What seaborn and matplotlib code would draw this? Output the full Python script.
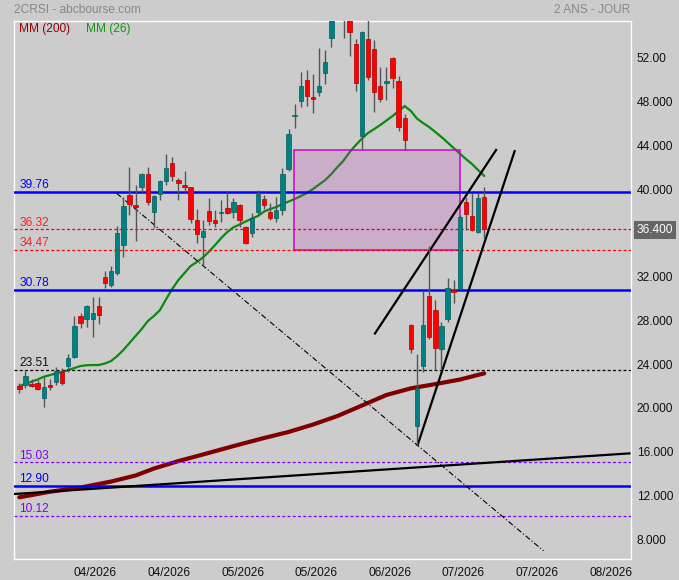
import numpy as np
import pandas as pd
import matplotlib
matplotlib.use("Agg")
import matplotlib.pyplot as plt
import matplotlib.patches as mpatches
import matplotlib.transforms as mtransforms
import seaborn as sns

# ---------------- data ----------------
opens = [22.0, 22.09, 22.18, 22.24, 20.87, 22.06, 22.39, 23.28, 23.83, 24.68,
         28.4, 28.09, 28.09, 29.31, 31.99, 31.23, 32.36, 34.89, 39.46, 38.54,
         40.22, 41.38, 37.93, 39.52, 40.77, 42.35, 40.83, 40.37, 40.16, 37.17,
         35.65, 37.99, 37.17, 37.78, 38.24, 37.93, 38.54, 36.5, 35.95, 37.93,
         39.09, 37.93, 37.38, 38.09, 41.83, 46.68, 48.05, 49.94, 48.41, 48.9,
         50.58, 53.84, 57.0, 57.5, 56.5, 53.23, 44.88, 53.72, 52.8, 49.42,
         49.66, 51.95, 49.88, 46.46, 27.57, 18.37, 23.86, 30.23, 28.94, 25.35,
         28.09, 30.74, 30.86, 38.79, 37.51, 36.11, 39.3]
highs = [22.24, 23.46, 22.61, 22.55, 22.79, 22.61, 23.77, 23.61, 24.92, 28.4,
         28.64, 29.37, 30.16, 30.16, 32.54, 32.97, 36.62, 39.3, 42.05, 40.37,
         41.5, 42.05, 39.46, 40.83, 43.21, 42.96, 40.98, 41.65, 40.22, 38.15,
         37.17, 39.15, 38.09, 39.0, 39.76, 39.15, 38.64, 36.62, 37.78, 39.91,
         39.46, 38.7, 39.3, 41.9, 45.49, 47.74, 50.73, 50.88, 50.49, 52.86,
         52.71, 57.0, 59.0, 58.5, 57.0, 53.72, 54.45, 55.8, 53.62, 51.19,
         51.19, 52.1, 50.33, 46.83, 27.7, 24.89, 30.68, 34.8, 29.86, 27.88,
         31.84, 31.69, 37.63, 39.3, 39.61, 39.61, 40.16]
lows = [21.39, 21.78, 21.88, 21.6, 20.11, 21.63, 22.09, 22.09, 23.31, 24.53,
        27.27, 27.42, 26.51, 27.66, 31.0, 31.08, 32.14, 33.82, 37.63, 35.28,
        39.76, 38.54, 36.41, 39.0, 40.37, 40.77, 39.0, 39.76, 36.87, 35.1,
        33.06, 36.72, 36.56, 37.02, 37.72, 37.33, 36.56, 34.98, 35.65, 37.63,
        38.18, 37.17, 36.96, 37.63, 41.65, 45.61, 47.53, 47.62, 46.98, 48.54,
        49.57, 53.0, 55.8, 53.84, 52.19, 48.96, 43.66, 49.97, 47.01, 47.93,
        48.14, 49.27, 45.31, 43.57, 24.98, 16.6, 23.25, 26.3, 23.46, 23.46,
        27.88, 29.55, 30.77, 36.26, 36.17, 35.95, 35.44]
closes = [21.69, 22.91, 22.03, 21.69, 21.94, 21.88, 23.4, 22.24, 24.53, 27.48,
          27.79, 29.31, 28.7, 28.46, 31.44, 32.54, 35.95, 38.45, 38.63, 38.39,
          41.38, 38.85, 39.37, 40.74, 41.9, 41.23, 40.52, 40.22, 37.23, 35.86,
          36.2, 37.11, 36.93, 37.9, 37.78, 38.82, 37.17, 35.1, 37.32, 39.52,
          38.54, 37.32, 38.09, 41.35, 45.0, 46.74, 49.42, 48.54, 48.2, 49.42,
          51.58, 56.5, 58.0, 56.5, 54.39, 49.66, 54.33, 50.27, 48.9, 48.2,
          49.88, 50.12, 45.7, 44.48, 25.35, 21.78, 27.57, 26.51, 25.44, 27.48,
          30.93, 30.62, 37.45, 37.69, 36.23, 39.15, 36.4]

mm26 = [22.0, 22.2, 22.4, 22.6, 22.85, 23.0, 23.15, 23.3, 23.46, 23.65,
        23.83, 23.9, 23.92, 23.92, 24.06, 24.29, 24.74, 25.29, 25.93, 26.57,
        27.21, 27.94, 28.4, 28.95, 29.95, 30.87, 31.69, 32.33, 32.97, 33.33,
        33.75, 34.29, 34.89, 35.53, 36.08, 36.51, 36.76, 37.04, 37.31, 37.54,
        37.95, 38.18, 38.36, 38.64, 38.86, 39.09, 39.37, 39.64, 40.01, 40.42,
        40.83, 41.38, 42.02, 42.61, 43.39, 44.03, 44.62, 45.13, 45.49, 45.86,
        46.27, 46.68, 47.14, 47.59, 47.14, 46.45, 46.04, 45.67, 45.22, 44.76,
        44.26, 43.75, 43.25, 42.75, 42.29, 41.74, 41.2]

mm200_idx = [0, 5, 10, 15, 19, 22, 26, 30, 35, 40, 44, 48, 52, 56, 60, 64, 68, 72, 76]
mm200_val = [11.83, 12.34, 12.72, 13.27, 13.82, 14.46, 15.14, 15.74, 16.51, 17.25,
             17.8, 18.48, 19.26, 20.22, 21.18, 21.79, 22.18, 22.59, 23.16]

level_values = [39.76, 36.32, 34.47, 30.78, 23.51, 15.03, 12.90, 10.12]
level_labels = ["39.76", "36.32", "34.47", "30.78", "23.51", "15.03", "12.90", "10.12"]
level_kinds = ["solid_blue", "dot_red", "dot_red", "solid_blue", "dot_black",
               "dot_purple", "solid_blue", "dot_purple"]

trend_lines = [  # (x0, y0, x1, y1)
    (58.03, 26.72, 78.03, 43.66),
    (65.05, 16.52, 81.02, 43.57),
    (-0.87, 12.13, 99.9, 15.85),
]
dashdot_line = (15.92, 39.61, 85.68, 6.94)
zone = (44.95, 72.08, 34.47, 43.54)  # x0, x1, low, high

xtick_pos = [12.45, 24.48, 36.51, 48.54, 60.57, 72.6, 84.63, 96.66]
xtick_labels = ["04/2026", "04/2026", "05/2026", "05/2026", "06/2026",
                "07/2026", "07/2026", "08/2026"]
ytick_pos = [8, 12, 16, 20, 24, 28, 32, 40, 44, 48, 52]
ytick_labels = ["8.000", "12.000", "16.000", "20.000", "24.000", "28.000",
                "32.000", "40.000", "44.000", "48.000", "52.00"]
last_price = 36.4
last_label = "36.400"

# ---------------- styling ----------------
sns.set_theme(style="white")
plt.rcParams['font.family'] = ['Liberation Sans', 'DejaVu Sans']
BG = "#cccccc"

fig = plt.figure(figsize=(6.79, 5.80), dpi=100, facecolor=BG)
ax = fig.add_axes([14 / 679, 1 - 559 / 580, 616.5 / 679, (559 - 21.3) / 580])
ax.set_facecolor(BG)

df = pd.DataFrame({"i": np.arange(len(opens)), "o": opens, "h": highs,
                   "l": lows, "c": closes})
df["up"] = df["c"] >= df["o"]

# moving averages
sns.lineplot(x=df["i"], y=mm26, ax=ax, color="#0a8a0a", lw=1.6, zorder=1.5)
sns.lineplot(x=mm200_idx, y=mm200_val, ax=ax, color="#800000", lw=3.0, zorder=1.5)

# zone
x0, x1, lo, hi = zone
ax.add_patch(mpatches.Rectangle((x0, lo), x1 - x0, hi - lo,
                                facecolor=(0.75, 0.2, 0.75, 0.2),
                                edgecolor="#cc00cc", lw=1.1, zorder=2))

# horizontal levels
blend = mtransforms.blended_transform_factory(ax.transAxes, ax.transData)
styles = {
    "solid_blue": dict(color="#0000ff", lw=1.8, ls="-"),
    "dot_red": dict(color="#ff0000", lw=0.9, ls=(0, (2.4, 1.8))),
    "dot_black": dict(color="#000000", lw=0.9, ls=(0, (2.4, 1.8))),
    "dot_purple": dict(color="#8000ff", lw=0.9, ls=(0, (2.4, 1.8))),
}
lab_col = {"solid_blue": "#0000ff", "dot_red": "#ff2020", "dot_black": "#111111",
           "dot_purple": "#8000ff"}
for v, lab, k in zip(level_values, level_labels, level_kinds):
    ax.axhline(v, zorder=3, **styles[k])
    ax.annotate(lab, xy=(0, v), xycoords=blend, xytext=(3.8, 2.6),
                textcoords="offset points", ha="left", va="baseline",
                fontsize=8.6, color=lab_col[k], zorder=6)

# trend lines
for (a0, b0, a1, b1) in trend_lines:
    ax.plot([a0, a1], [b0, b1], color="black", lw=1.6, zorder=3.5,
            solid_capstyle="butt")
a0, b0, a1, b1 = dashdot_line
ax.plot([a0, a1], [b0, b1], color="black", lw=0.8, ls=(0, (5, 2, 1, 2)), zorder=3.5)

# candles
ax.vlines(df["i"], df["l"], df["h"], color="#555555", lw=1.0, zorder=4)
bw = 0.72
bottoms = np.minimum(df["o"], df["c"])
heights = np.maximum(np.abs(df["c"] - df["o"]), 0.12)
face = np.where(df["up"], "#008080", "#ff0000")
edge = np.where(df["up"], "#006060", "#b00000")
ax.bar(df["i"], heights, bottom=bottoms, width=bw, color=face, edgecolor=edge,
       linewidth=0.5, zorder=4.5)

# axes
ax.set_xlim(-0.87, 99.9)
ax.set_ylim(6.19, 55.34)
ax.set_xticks(xtick_pos)
ax.set_xticklabels(xtick_labels, fontsize=8.6, color="#111111")
ax.yaxis.tick_right()
ax.set_yticks(ytick_pos)
ax.set_yticklabels(ytick_labels, fontsize=8.6, color="#111111")
ax.tick_params(axis="both", length=0)
ax.tick_params(axis="y", pad=4.6)
ax.tick_params(axis="x", pad=6)
ax.set_xlabel("")
ax.set_ylabel("")
for s in ax.spines.values():
    s.set_color("white")
    s.set_linewidth(1.0)
    s.set_visible(True)

# last price box
ax.annotate(last_label, xy=(1, last_price), xycoords=blend, xytext=(4.6, -1.2),
            textcoords="offset points", ha="left", va="center", fontsize=8.6,
            color="white", annotation_clip=False,
            bbox=dict(boxstyle="square,pad=0.25", facecolor="#666666",
                      edgecolor="none"))

# titles and legend
fig.text(14 / 679, 1 - 12.7 / 580, "2CRSI - abcbourse.com", fontsize=8.6,
         color="#888888", ha="left", va="baseline")
fig.text(630 / 679, 1 - 12.7 / 580, "2 ANS - JOUR", fontsize=8.6,
         color="#888888", ha="right", va="baseline")
fig.text(19.3 / 679, 1 - 32.3 / 580, "MM (200)", fontsize=8.6,
         color="#990000", ha="left", va="baseline")
fig.text(85.7 / 679, 1 - 32.3 / 580, "MM (26)", fontsize=8.6,
         color="#119911", ha="left", va="baseline")

fig.savefig("out.png", dpi=100, facecolor=BG)
